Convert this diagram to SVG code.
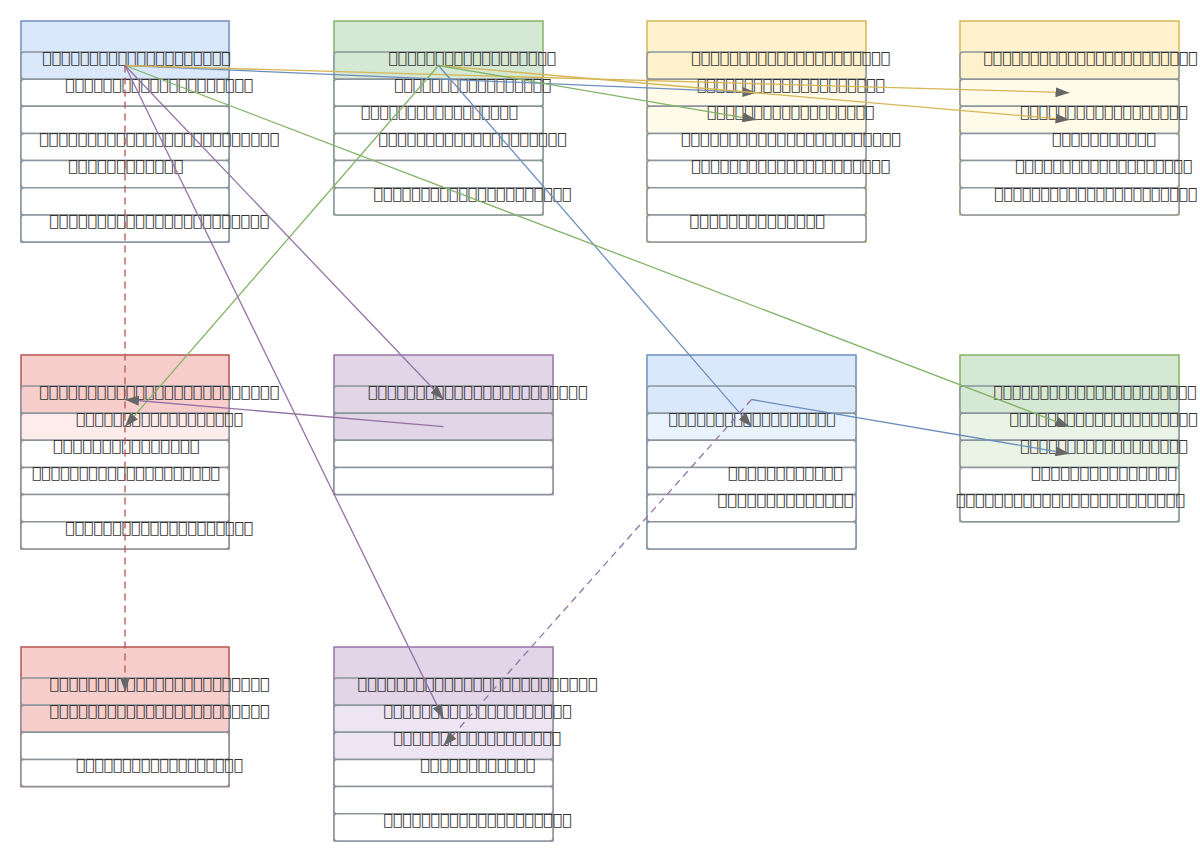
<svg xmlns="http://www.w3.org/2000/svg" width="1200" height="862" viewBox="0 0 1200 862">
<defs>
<style>
.row{stroke:#8c959c;stroke-width:1.5}
.box{stroke-width:1.5}
.t{font-family:"DejaVu Sans",sans-serif;font-size:15.5px;fill:#333}
.c{fill:none;stroke-width:1.3}
.w{fill:#ffffff}
</style>
<marker id="ah" markerUnits="userSpaceOnUse" markerWidth="14" markerHeight="10" refX="14" refY="5" orient="auto">
<path d="M0,0 L14,5 L0,10 Z" fill="#666666"/>
</marker>
</defs>
<rect width="1200" height="862" fill="#ffffff"/>

<g id="node1">
<rect class="box" x="21" y="21" width="208" height="221.05" fill="#dae8fc" stroke="#6c8ebf"/>
<rect class="row" x="21" y="52" width="208" height="27.15" rx="3" fill="#dae8fc"/>
<rect class="row w" x="21" y="79.15" width="208" height="27.15" rx="3"/>
<rect class="row w" x="21" y="106.3" width="208" height="27.15" rx="3"/>
<rect class="row w" x="21" y="133.45" width="208" height="27.15" rx="3"/>
<rect class="row w" x="21" y="160.6" width="208" height="27.15" rx="3"/>
<rect class="row w" x="21" y="187.75" width="208" height="27.15" rx="3"/>
<rect class="row w" x="21" y="214.9" width="208" height="27.15" rx="3"/>
<text class="t" x="42" y="62.8" textLength="188.5" lengthAdjust="spacingAndGlyphs">&#xE000;&#xE000;&#xE000;&#xE000;&#xE000;&#xE000;&#xE000;&#xE000;&#xE000;&#xE000;&#xE000;&#xE000;&#xE000;&#xE000;&#xE000;&#xE000;&#xE000;&#xE000;&#xE000;&#xE000;</text>
<text class="t" x="65" y="89.95" textLength="188" lengthAdjust="spacingAndGlyphs">&#xE000;&#xE000;&#xE000;&#xE000;&#xE000;&#xE000;&#xE000;&#xE000;&#xE000;&#xE000;&#xE000;&#xE000;&#xE000;&#xE000;&#xE000;&#xE000;&#xE000;&#xE000;&#xE000;&#xE000;</text>
<text class="t" x="39" y="144.25" textLength="240" lengthAdjust="spacingAndGlyphs">&#xE000;&#xE000;&#xE000;&#xE000;&#xE000;&#xE000;&#xE000;&#xE000;&#xE000;&#xE000;&#xE000;&#xE000;&#xE000;&#xE000;&#xE000;&#xE000;&#xE000;&#xE000;&#xE000;&#xE000;&#xE000;&#xE000;&#xE000;&#xE000;&#xE000;</text>
<text class="t" x="68" y="171.4" textLength="115" lengthAdjust="spacingAndGlyphs">&#xE000;&#xE000;&#xE000;&#xE000;&#xE000;&#xE000;&#xE000;&#xE000;&#xE000;&#xE000;&#xE000;&#xE000;</text>
<text class="t" x="49" y="225.7" textLength="220" lengthAdjust="spacingAndGlyphs">&#xE000;&#xE000;&#xE000;&#xE000;&#xE000;&#xE000;&#xE000;&#xE000;&#xE000;&#xE000;&#xE000;&#xE000;&#xE000;&#xE000;&#xE000;&#xE000;&#xE000;&#xE000;&#xE000;&#xE000;&#xE000;&#xE000;&#xE000;</text>
</g>

<g id="node2">
<rect class="box" x="334" y="21" width="209" height="193.9" fill="#d5e8d4" stroke="#82b366"/>
<rect class="row" x="334" y="52" width="209" height="27.15" rx="3" fill="#d5e8d4"/>
<rect class="row w" x="334" y="79.15" width="209" height="27.15" rx="3"/>
<rect class="row w" x="334" y="106.3" width="209" height="27.15" rx="3"/>
<rect class="row w" x="334" y="133.45" width="209" height="27.15" rx="3"/>
<rect class="row w" x="334" y="160.6" width="209" height="27.15" rx="3"/>
<rect class="row w" x="334" y="187.75" width="209" height="27.15" rx="3"/>
<text class="t" x="388.3" y="62.8" textLength="167.5" lengthAdjust="spacingAndGlyphs">&#xE000;&#xE000;&#xE000;&#xE000;&#xE000;&#xE000;&#xE000;&#xE000;&#xE000;&#xE000;&#xE000;&#xE000;&#xE000;&#xE000;&#xE000;&#xE000;&#xE000;&#xE000;</text>
<text class="t" x="394" y="89.95" textLength="157" lengthAdjust="spacingAndGlyphs">&#xE000;&#xE000;&#xE000;&#xE000;&#xE000;&#xE000;&#xE000;&#xE000;&#xE000;&#xE000;&#xE000;&#xE000;&#xE000;&#xE000;&#xE000;&#xE000;&#xE000;</text>
<text class="t" x="360.7" y="117.1" textLength="157" lengthAdjust="spacingAndGlyphs">&#xE000;&#xE000;&#xE000;&#xE000;&#xE000;&#xE000;&#xE000;&#xE000;&#xE000;&#xE000;&#xE000;&#xE000;&#xE000;&#xE000;&#xE000;&#xE000;&#xE000;</text>
<text class="t" x="378.3" y="144.25" textLength="188" lengthAdjust="spacingAndGlyphs">&#xE000;&#xE000;&#xE000;&#xE000;&#xE000;&#xE000;&#xE000;&#xE000;&#xE000;&#xE000;&#xE000;&#xE000;&#xE000;&#xE000;&#xE000;&#xE000;&#xE000;&#xE000;&#xE000;&#xE000;</text>
<text class="t" x="373.3" y="198.55" textLength="198" lengthAdjust="spacingAndGlyphs">&#xE000;&#xE000;&#xE000;&#xE000;&#xE000;&#xE000;&#xE000;&#xE000;&#xE000;&#xE000;&#xE000;&#xE000;&#xE000;&#xE000;&#xE000;&#xE000;&#xE000;&#xE000;&#xE000;&#xE000;&#xE000;</text>
</g>

<g id="node3">
<rect class="box" x="647" y="21" width="219" height="221.05" fill="#fff2cc" stroke="#d6b656"/>
<rect class="row" x="647" y="52" width="219" height="27.15" rx="3" fill="#fff2cc"/>
<rect class="row" x="647" y="79.15" width="219" height="27.15" rx="3" fill="#fffbe8"/>
<rect class="row" x="647" y="106.3" width="219" height="27.15" rx="3" fill="#fffbe8"/>
<rect class="row w" x="647" y="133.45" width="219" height="27.15" rx="3"/>
<rect class="row w" x="647" y="160.6" width="219" height="27.15" rx="3"/>
<rect class="row w" x="647" y="187.75" width="219" height="27.15" rx="3"/>
<rect class="row w" x="647" y="214.9" width="219" height="27.15" rx="3"/>
<text class="t" x="691" y="62.8" textLength="199" lengthAdjust="spacingAndGlyphs">&#xE000;&#xE000;&#xE000;&#xE000;&#xE000;&#xE000;&#xE000;&#xE000;&#xE000;&#xE000;&#xE000;&#xE000;&#xE000;&#xE000;&#xE000;&#xE000;&#xE000;&#xE000;&#xE000;&#xE000;&#xE000;</text>
<text class="t" x="696.7" y="89.95" textLength="188" lengthAdjust="spacingAndGlyphs">&#xE000;&#xE000;&#xE000;&#xE000;&#xE000;&#xE000;&#xE000;&#xE000;&#xE000;&#xE000;&#xE000;&#xE000;&#xE000;&#xE000;&#xE000;&#xE000;&#xE000;&#xE000;&#xE000;&#xE000;</text>
<text class="t" x="706.7" y="117.1" textLength="167.5" lengthAdjust="spacingAndGlyphs">&#xE000;&#xE000;&#xE000;&#xE000;&#xE000;&#xE000;&#xE000;&#xE000;&#xE000;&#xE000;&#xE000;&#xE000;&#xE000;&#xE000;&#xE000;&#xE000;&#xE000;&#xE000;</text>
<text class="t" x="680.7" y="144.25" textLength="220" lengthAdjust="spacingAndGlyphs">&#xE000;&#xE000;&#xE000;&#xE000;&#xE000;&#xE000;&#xE000;&#xE000;&#xE000;&#xE000;&#xE000;&#xE000;&#xE000;&#xE000;&#xE000;&#xE000;&#xE000;&#xE000;&#xE000;&#xE000;&#xE000;&#xE000;&#xE000;</text>
<text class="t" x="691" y="171.4" textLength="199" lengthAdjust="spacingAndGlyphs">&#xE000;&#xE000;&#xE000;&#xE000;&#xE000;&#xE000;&#xE000;&#xE000;&#xE000;&#xE000;&#xE000;&#xE000;&#xE000;&#xE000;&#xE000;&#xE000;&#xE000;&#xE000;&#xE000;&#xE000;&#xE000;</text>
<text class="t" x="689.3" y="225.7" textLength="135.5" lengthAdjust="spacingAndGlyphs">&#xE000;&#xE000;&#xE000;&#xE000;&#xE000;&#xE000;&#xE000;&#xE000;&#xE000;&#xE000;&#xE000;&#xE000;&#xE000;&#xE000;</text>
</g>

<g id="node4">
<rect class="box" x="960" y="21" width="219" height="193.9" fill="#fff2cc" stroke="#d6b656"/>
<rect class="row" x="960" y="52" width="219" height="27.15" rx="3" fill="#fff2cc"/>
<rect class="row" x="960" y="79.15" width="219" height="27.15" rx="3" fill="#fffbe8"/>
<rect class="row" x="960" y="106.3" width="219" height="27.15" rx="3" fill="#fffbe8"/>
<rect class="row w" x="960" y="133.45" width="219" height="27.15" rx="3"/>
<rect class="row w" x="960" y="160.6" width="219" height="27.15" rx="3"/>
<rect class="row w" x="960" y="187.75" width="219" height="27.15" rx="3"/>
<text class="t" x="983.3" y="62.8" textLength="214" lengthAdjust="spacingAndGlyphs">&#xE000;&#xE000;&#xE000;&#xE000;&#xE000;&#xE000;&#xE000;&#xE000;&#xE000;&#xE000;&#xE000;&#xE000;&#xE000;&#xE000;&#xE000;&#xE000;&#xE000;&#xE000;&#xE000;&#xE000;&#xE000;&#xE000;&#xE000;</text>
<text class="t" x="1020" y="117.1" textLength="167.5" lengthAdjust="spacingAndGlyphs">&#xE000;&#xE000;&#xE000;&#xE000;&#xE000;&#xE000;&#xE000;&#xE000;&#xE000;&#xE000;&#xE000;&#xE000;&#xE000;&#xE000;&#xE000;&#xE000;&#xE000;&#xE000;</text>
<text class="t" x="1051.7" y="144.25" textLength="104" lengthAdjust="spacingAndGlyphs">&#xE000;&#xE000;&#xE000;&#xE000;&#xE000;&#xE000;&#xE000;&#xE000;&#xE000;&#xE000;&#xE000;</text>
<text class="t" x="1015" y="171.4" textLength="177" lengthAdjust="spacingAndGlyphs">&#xE000;&#xE000;&#xE000;&#xE000;&#xE000;&#xE000;&#xE000;&#xE000;&#xE000;&#xE000;&#xE000;&#xE000;&#xE000;&#xE000;&#xE000;&#xE000;&#xE000;&#xE000;&#xE000;</text>
<text class="t" x="994" y="198.55" textLength="203" lengthAdjust="spacingAndGlyphs">&#xE000;&#xE000;&#xE000;&#xE000;&#xE000;&#xE000;&#xE000;&#xE000;&#xE000;&#xE000;&#xE000;&#xE000;&#xE000;&#xE000;&#xE000;&#xE000;&#xE000;&#xE000;&#xE000;&#xE000;&#xE000;&#xE000;</text>
</g>

<g id="node5">
<rect class="box" x="21" y="355" width="208" height="193.9" fill="#f8cecc" stroke="#b85450"/>
<rect class="row" x="21" y="386" width="208" height="27.15" rx="3" fill="#f8cecc"/>
<rect class="row" x="21" y="413.15" width="208" height="27.15" rx="3" fill="#fdeceb"/>
<rect class="row w" x="21" y="440.3" width="208" height="27.15" rx="3"/>
<rect class="row w" x="21" y="467.45" width="208" height="27.15" rx="3"/>
<rect class="row w" x="21" y="494.6" width="208" height="27.15" rx="3"/>
<rect class="row w" x="21" y="521.75" width="208" height="27.15" rx="3"/>
<text class="t" x="39" y="396.8" textLength="240" lengthAdjust="spacingAndGlyphs">&#xE000;&#xE000;&#xE000;&#xE000;&#xE000;&#xE000;&#xE000;&#xE000;&#xE000;&#xE000;&#xE000;&#xE000;&#xE000;&#xE000;&#xE000;&#xE000;&#xE000;&#xE000;&#xE000;&#xE000;&#xE000;&#xE000;&#xE000;&#xE000;&#xE000;</text>
<text class="t" x="75.7" y="423.95" textLength="167" lengthAdjust="spacingAndGlyphs">&#xE000;&#xE000;&#xE000;&#xE000;&#xE000;&#xE000;&#xE000;&#xE000;&#xE000;&#xE000;&#xE000;&#xE000;&#xE000;&#xE000;&#xE000;&#xE000;&#xE000;&#xE000;</text>
<text class="t" x="52.7" y="451.1" textLength="146.5" lengthAdjust="spacingAndGlyphs">&#xE000;&#xE000;&#xE000;&#xE000;&#xE000;&#xE000;&#xE000;&#xE000;&#xE000;&#xE000;&#xE000;&#xE000;&#xE000;&#xE000;&#xE000;</text>
<text class="t" x="31.7" y="478.25" textLength="188" lengthAdjust="spacingAndGlyphs">&#xE000;&#xE000;&#xE000;&#xE000;&#xE000;&#xE000;&#xE000;&#xE000;&#xE000;&#xE000;&#xE000;&#xE000;&#xE000;&#xE000;&#xE000;&#xE000;&#xE000;&#xE000;&#xE000;&#xE000;</text>
<text class="t" x="65" y="532.55" textLength="188" lengthAdjust="spacingAndGlyphs">&#xE000;&#xE000;&#xE000;&#xE000;&#xE000;&#xE000;&#xE000;&#xE000;&#xE000;&#xE000;&#xE000;&#xE000;&#xE000;&#xE000;&#xE000;&#xE000;&#xE000;&#xE000;&#xE000;&#xE000;</text>
</g>

<g id="node6">
<rect class="box" x="334" y="355" width="219" height="139.6" fill="#e1d5e7" stroke="#9673a6"/>
<rect class="row" x="334" y="386" width="219" height="27.15" rx="3" fill="#e1d5e7"/>
<rect class="row" x="334" y="413.15" width="219" height="27.15" rx="3" fill="#e1d5e7"/>
<rect class="row w" x="334" y="440.3" width="219" height="27.15" rx="3"/>
<rect class="row w" x="334" y="467.45" width="219" height="27.15" rx="3"/>
<text class="t" x="367.7" y="396.8" textLength="219.5" lengthAdjust="spacingAndGlyphs">&#xE000;&#xE000;&#xE000;&#xE000;&#xE000;&#xE000;&#xE000;&#xE000;&#xE000;&#xE000;&#xE000;&#xE000;&#xE000;&#xE000;&#xE000;&#xE000;&#xE000;&#xE000;&#xE000;&#xE000;&#xE000;&#xE000;&#xE000;</text>
</g>

<g id="node7">
<rect class="box" x="647" y="355" width="209" height="193.9" fill="#dae8fc" stroke="#6c8ebf"/>
<rect class="row" x="647" y="386" width="209" height="27.15" rx="3" fill="#dae8fc"/>
<rect class="row" x="647" y="413.15" width="209" height="27.15" rx="3" fill="#e8f3fd"/>
<rect class="row w" x="647" y="440.3" width="209" height="27.15" rx="3"/>
<rect class="row w" x="647" y="467.45" width="209" height="27.15" rx="3"/>
<rect class="row w" x="647" y="494.6" width="209" height="27.15" rx="3"/>
<rect class="row w" x="647" y="521.75" width="209" height="27.15" rx="3"/>
<text class="t" x="668.3" y="423.95" textLength="167" lengthAdjust="spacingAndGlyphs">&#xE000;&#xE000;&#xE000;&#xE000;&#xE000;&#xE000;&#xE000;&#xE000;&#xE000;&#xE000;&#xE000;&#xE000;&#xE000;&#xE000;&#xE000;&#xE000;&#xE000;&#xE000;</text>
<text class="t" x="727.7" y="478.25" textLength="115" lengthAdjust="spacingAndGlyphs">&#xE000;&#xE000;&#xE000;&#xE000;&#xE000;&#xE000;&#xE000;&#xE000;&#xE000;&#xE000;&#xE000;&#xE000;</text>
<text class="t" x="717.3" y="505.4" textLength="136" lengthAdjust="spacingAndGlyphs">&#xE000;&#xE000;&#xE000;&#xE000;&#xE000;&#xE000;&#xE000;&#xE000;&#xE000;&#xE000;&#xE000;&#xE000;&#xE000;&#xE000;</text>
</g>

<g id="node8">
<rect class="box" x="960" y="355" width="219" height="166.75" fill="#d5e8d4" stroke="#82b366"/>
<rect class="row" x="960" y="386" width="219" height="27.15" rx="3" fill="#d5e8d4"/>
<rect class="row" x="960" y="413.15" width="219" height="27.15" rx="3" fill="#e9f4e7"/>
<rect class="row" x="960" y="440.3" width="219" height="27.15" rx="3" fill="#e9f4e7"/>
<rect class="row w" x="960" y="467.45" width="219" height="27.15" rx="3"/>
<rect class="row w" x="960" y="494.6" width="219" height="27.15" rx="3"/>
<text class="t" x="993.3" y="396.8" textLength="203" lengthAdjust="spacingAndGlyphs">&#xE000;&#xE000;&#xE000;&#xE000;&#xE000;&#xE000;&#xE000;&#xE000;&#xE000;&#xE000;&#xE000;&#xE000;&#xE000;&#xE000;&#xE000;&#xE000;&#xE000;&#xE000;&#xE000;&#xE000;&#xE000;&#xE000;</text>
<text class="t" x="1009.3" y="423.95" textLength="188" lengthAdjust="spacingAndGlyphs">&#xE000;&#xE000;&#xE000;&#xE000;&#xE000;&#xE000;&#xE000;&#xE000;&#xE000;&#xE000;&#xE000;&#xE000;&#xE000;&#xE000;&#xE000;&#xE000;&#xE000;&#xE000;&#xE000;&#xE000;</text>
<text class="t" x="1020" y="451.1" textLength="167.5" lengthAdjust="spacingAndGlyphs">&#xE000;&#xE000;&#xE000;&#xE000;&#xE000;&#xE000;&#xE000;&#xE000;&#xE000;&#xE000;&#xE000;&#xE000;&#xE000;&#xE000;&#xE000;&#xE000;&#xE000;&#xE000;</text>
<text class="t" x="1030.7" y="478.25" textLength="146" lengthAdjust="spacingAndGlyphs">&#xE000;&#xE000;&#xE000;&#xE000;&#xE000;&#xE000;&#xE000;&#xE000;&#xE000;&#xE000;&#xE000;&#xE000;&#xE000;&#xE000;&#xE000;</text>
<text class="t" x="955.7" y="505.4" textLength="229" lengthAdjust="spacingAndGlyphs">&#xE000;&#xE000;&#xE000;&#xE000;&#xE000;&#xE000;&#xE000;&#xE000;&#xE000;&#xE000;&#xE000;&#xE000;&#xE000;&#xE000;&#xE000;&#xE000;&#xE000;&#xE000;&#xE000;&#xE000;&#xE000;&#xE000;&#xE000;&#xE000;</text>
</g>

<g id="node9">
<rect class="box" x="21" y="647" width="208" height="139.6" fill="#f8cecc" stroke="#b85450"/>
<rect class="row" x="21" y="678" width="208" height="27.15" rx="3" fill="#f8cecc"/>
<rect class="row" x="21" y="705.15" width="208" height="27.15" rx="3" fill="#f8cecc"/>
<rect class="row w" x="21" y="732.3" width="208" height="27.15" rx="3"/>
<rect class="row w" x="21" y="759.45" width="208" height="27.15" rx="3"/>
<text class="t" x="49.3" y="688.8" textLength="220" lengthAdjust="spacingAndGlyphs">&#xE000;&#xE000;&#xE000;&#xE000;&#xE000;&#xE000;&#xE000;&#xE000;&#xE000;&#xE000;&#xE000;&#xE000;&#xE000;&#xE000;&#xE000;&#xE000;&#xE000;&#xE000;&#xE000;&#xE000;&#xE000;&#xE000;&#xE000;</text>
<text class="t" x="49.3" y="715.95" textLength="220" lengthAdjust="spacingAndGlyphs">&#xE000;&#xE000;&#xE000;&#xE000;&#xE000;&#xE000;&#xE000;&#xE000;&#xE000;&#xE000;&#xE000;&#xE000;&#xE000;&#xE000;&#xE000;&#xE000;&#xE000;&#xE000;&#xE000;&#xE000;&#xE000;&#xE000;&#xE000;</text>
<text class="t" x="75.7" y="770.25" textLength="167" lengthAdjust="spacingAndGlyphs">&#xE000;&#xE000;&#xE000;&#xE000;&#xE000;&#xE000;&#xE000;&#xE000;&#xE000;&#xE000;&#xE000;&#xE000;&#xE000;&#xE000;&#xE000;&#xE000;&#xE000;&#xE000;</text>
</g>

<g id="node10">
<rect class="box" x="334" y="647" width="219" height="193.9" fill="#e1d5e7" stroke="#9673a6"/>
<rect class="row" x="334" y="678" width="219" height="27.15" rx="3" fill="#e1d5e7"/>
<rect class="row" x="334" y="705.15" width="219" height="27.15" rx="3" fill="#ede5f3"/>
<rect class="row" x="334" y="732.3" width="219" height="27.15" rx="3" fill="#ede5f3"/>
<rect class="row w" x="334" y="759.45" width="219" height="27.15" rx="3"/>
<rect class="row w" x="334" y="786.6" width="219" height="27.15" rx="3"/>
<rect class="row w" x="334" y="813.75" width="219" height="27.15" rx="3"/>
<text class="t" x="357.3" y="688.8" textLength="240" lengthAdjust="spacingAndGlyphs">&#xE000;&#xE000;&#xE000;&#xE000;&#xE000;&#xE000;&#xE000;&#xE000;&#xE000;&#xE000;&#xE000;&#xE000;&#xE000;&#xE000;&#xE000;&#xE000;&#xE000;&#xE000;&#xE000;&#xE000;&#xE000;&#xE000;&#xE000;&#xE000;&#xE000;</text>
<text class="t" x="383.3" y="715.95" textLength="188" lengthAdjust="spacingAndGlyphs">&#xE000;&#xE000;&#xE000;&#xE000;&#xE000;&#xE000;&#xE000;&#xE000;&#xE000;&#xE000;&#xE000;&#xE000;&#xE000;&#xE000;&#xE000;&#xE000;&#xE000;&#xE000;&#xE000;&#xE000;</text>
<text class="t" x="393.3" y="743.1" textLength="167.5" lengthAdjust="spacingAndGlyphs">&#xE000;&#xE000;&#xE000;&#xE000;&#xE000;&#xE000;&#xE000;&#xE000;&#xE000;&#xE000;&#xE000;&#xE000;&#xE000;&#xE000;&#xE000;&#xE000;&#xE000;&#xE000;</text>
<text class="t" x="420" y="770.25" textLength="115" lengthAdjust="spacingAndGlyphs">&#xE000;&#xE000;&#xE000;&#xE000;&#xE000;&#xE000;&#xE000;&#xE000;&#xE000;&#xE000;&#xE000;&#xE000;</text>
<text class="t" x="383.3" y="824.55" textLength="188" lengthAdjust="spacingAndGlyphs">&#xE000;&#xE000;&#xE000;&#xE000;&#xE000;&#xE000;&#xE000;&#xE000;&#xE000;&#xE000;&#xE000;&#xE000;&#xE000;&#xE000;&#xE000;&#xE000;&#xE000;&#xE000;&#xE000;&#xE000;</text>
</g>

<g id="connectors">
<path class="c" d="M125,65.5 L756.5,92.65" stroke="#6c8ebf" marker-end="url(#ah)"/>
<path class="c" d="M125,65.5 L1069.5,92.65" stroke="#d6b656" marker-end="url(#ah)"/>
<path class="c" d="M438.5,65.5 L1069.5,119.8" stroke="#d6b656" marker-end="url(#ah)"/>
<path class="c" d="M438.5,65.5 L756.5,119.8" stroke="#82b366" marker-end="url(#ah)"/>
<path class="c" d="M438.5,65.5 L125,426.65" stroke="#82b366" marker-end="url(#ah)"/>
<path class="c" d="M438.5,65.5 L751.5,426.65" stroke="#6c8ebf" marker-end="url(#ah)"/>
<path class="c" d="M125,65.5 L1069.5,426.65" stroke="#82b366" marker-end="url(#ah)"/>
<path class="c" d="M751.5,399.5 L1069.5,453.8" stroke="#6c8ebf" marker-end="url(#ah)"/>
<path class="c" d="M125,65.5 L443.5,399.5" stroke="#9673a6" marker-end="url(#ah)"/>
<path class="c" d="M443.5,426.65 L125,399.5" stroke="#9673a6" marker-end="url(#ah)"/>
<path class="c" d="M125,65.5 L443.5,718.65" stroke="#9673a6" marker-end="url(#ah)"/>
<path class="c" d="M751.5,399.5 L443.5,745.8" stroke="#9673a6" stroke-dasharray="7,5" marker-end="url(#ah)"/>
<path class="c" d="M125,65.5 L125,691.5" stroke="#b85450" stroke-dasharray="7,5" marker-end="url(#ah)"/>
</g>
</svg>
